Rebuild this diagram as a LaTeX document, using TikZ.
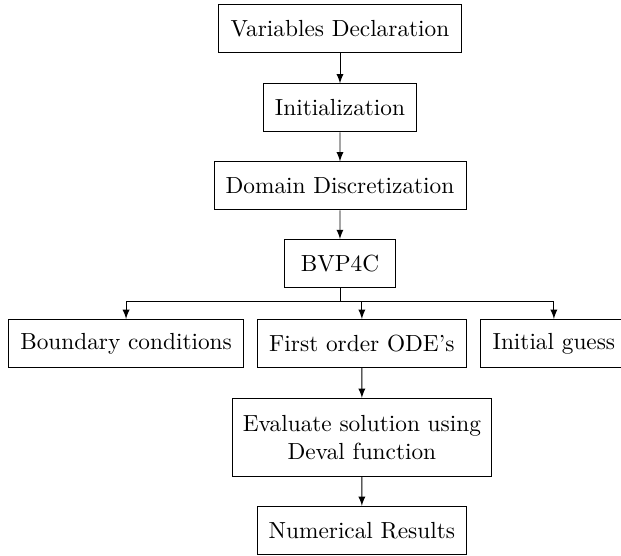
\documentclass[tikz,border=0pt]{standalone}
\usepackage{amsmath}
\usepackage{tikz}

\begin{document}
\begin{tikzpicture}[
        grow=down,
        level 1/.style={level distance=33.9pt},
        level 2/.style={level distance=33.5pt},
        level 3/.style={level distance=33.3pt},
        level 4/.style={level distance=34.3pt, sibling distance=91.8pt,
            edge from parent path={(\tikzparentnode.south) -- ++(0,-5.6pt) -| (\tikzchildnode.north)}},
        level 5/.style={level distance=40.3pt,
            edge from parent path={(\tikzparentnode.south) -- (\tikzchildnode.north)}},
        level 6/.style={level distance=39.9pt},
        every node/.style={draw, align=center, inner xsep=5pt, minimum height=20.6pt},
        solver/.style={minimum width=48pt},
        two_line/.style={inner xsep=4.3pt, inner ysep=7.2pt},
        edge from parent/.style={draw, -latex},
        edge from parent path={(\tikzparentnode.south) -- (\tikzchildnode.north)}
    ]
    \useasboundingbox (-145.9pt,12.4pt) rectangle (120.6pt,-226.2pt);
    \node (vars) {Variables Declaration}
        child {node (init) {Initialization}
            child {node (domain) {Domain Discretization}
                child {node[solver] (bvp) {BVP4C}
                    child {node (bc) {Boundary conditions}}
                    child[xshift=9.4pt] {node (ode) {First order ODE's}
                        child {node[two_line] (eval) {Evaluate solution using\\ Deval function}
                            child {node (results) {Numerical Results}}
                        }
                    }
                    child {node (guess) {Initial guess}}
                }
            }
        };
\end{tikzpicture}
\end{document}
